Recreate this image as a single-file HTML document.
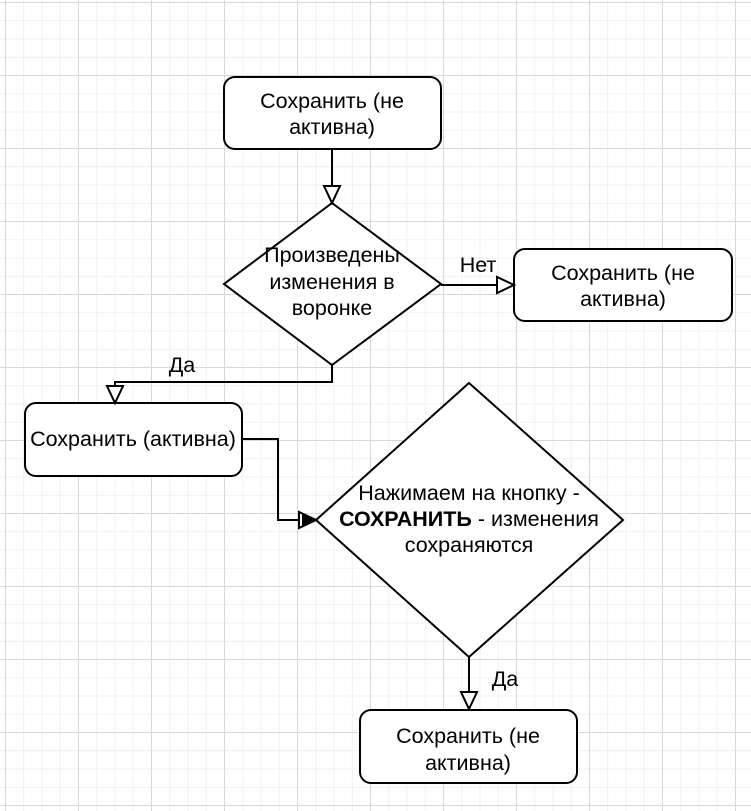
<!DOCTYPE html>
<html><head><meta charset="utf-8"><style>
html,body{margin:0;padding:0;}
body{width:751px;height:811px;overflow:hidden;background:#fff;
background-image:
linear-gradient(#d8d8d8 1px,transparent 1px),
linear-gradient(90deg,#d8d8d8 1px,transparent 1px),
linear-gradient(#f0f0f0 1px,transparent 1px),
linear-gradient(90deg,#f0f0f0 1px,transparent 1px);
background-size:73px 73px,73px 73px,18.25px 18.25px,18.25px 18.25px;
background-position:0 2px,5px 0,0 2px,5px 0;}
svg{position:absolute;left:0;top:0;}
text{font-family:"Liberation Sans",sans-serif;font-size:21.5px;fill:#000;}
</style></head><body>
<svg width="751" height="811" viewBox="0 0 751 811">
<g fill="#fff" stroke="#000" stroke-width="2">
<rect x="224" y="77" width="217" height="72" rx="11"/>
<rect x="514" y="249" width="218" height="72" rx="11"/>
<rect x="25" y="403" width="217" height="73" rx="11"/>
<rect x="360" y="710" width="217" height="73" rx="11"/>
<polygon points="332,203 441,284 332,365 224,284"/>
<polygon points="469,383 623,520 469,657 316,520"/>
</g>
<g fill="none" stroke="#000" stroke-width="2">
<path d="M332 149V186"/>
<path d="M441 285H497"/>
<path d="M332 365V382H115V386"/>
<path d="M242 439H278V520H299"/>
<path d="M469 657V692"/>
</g>
<g fill="#fff" stroke="#000" stroke-width="2">
<polygon points="324,186 340,186 332,203"/>
<polygon points="497,277 497,293 514,285"/>
<polygon points="107,386 123,386 115,403"/>
<polygon points="461,692 477,692 469,709"/>
<polygon points="299,512 299,528 316,520"/>
</g>
<polygon points="302,514 302,526 314,520" fill="#000"/>
<g text-anchor="middle">
<text x="332" y="108">Сохранить (не</text>
<text x="332" y="134">активна)</text>
<text x="623" y="280">Сохранить (не</text>
<text x="623" y="306">активна)</text>
<text x="133" y="446">Сохранить (активна)</text>
<text x="468" y="743">Сохранить (не</text>
<text x="468" y="770">активна)</text>
<text x="332" y="262">Произведены</text>
<text x="332" y="289">изменения в</text>
<text x="332" y="315">воронке</text>
<text x="469" y="500">Нажимаем на кнопку -</text>
<text x="469" y="526"><tspan font-weight="bold">СОХРАНИТЬ</tspan> - изменения</text>
<text x="469" y="552">сохраняются</text>
<text x="478" y="272" font-size="17.5">Нет</text>
<text x="182" y="372" font-size="17.5">Да</text>
<text x="505" y="686" font-size="17.5">Да</text>
</g>
</svg>
</body></html>
